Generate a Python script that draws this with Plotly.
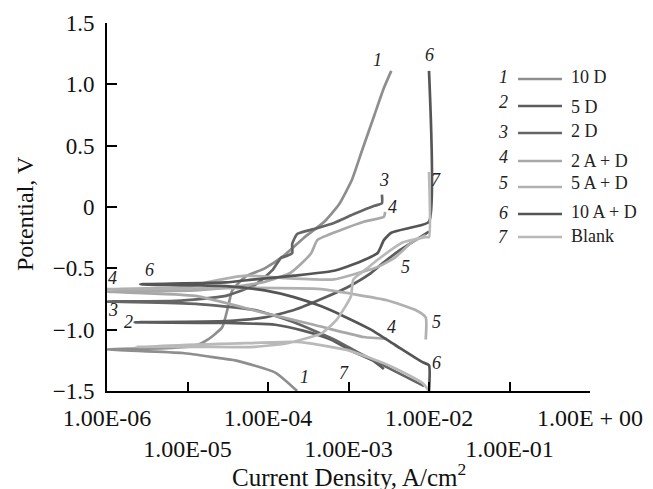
import math
import plotly.graph_objects as go

# ---------------- data (current density A/cm^2, potential V) ----------------
names = ["10 D", "5 D", "2 D", "2 A + D", "5 A + D", "10 A + D", "Blank"]
numbers = ["1", "2", "3", "4", "5", "6", "7"]

cur1 = [2.3e-4, 1.23e-4, 3.9e-5, 2.4e-5, 8.7e-6, 1.0e-6, 5.5e-6, 1.26e-5, 1.8e-5, 2.7e-5,
        3.2e-5, 3.6e-5, 5.2e-5, 9.1e-5, 1.62e-4, 2.8e-4, 5.0e-4, 7.6e-4, 1.1e-3, 1.48e-3,
        2.1e-3, 2.75e-3, 3.4e-3]
pot1 = [-1.50, -1.35, -1.25, -1.23, -1.19, -1.16, -1.15, -1.13, -1.08, -0.98,
        -0.81, -0.68, -0.57, -0.50, -0.39, -0.25, -0.12, 0.02, 0.22, 0.465,
        0.75, 0.97, 1.11]

cur2 = [2.75e-3, 2.1e-3, 1.15e-3, 6.0e-4, 2.8e-4, 1.23e-4, 3.0e-5, 2.2e-6,
        3.0e-5, 9.1e-5, 2.1e-4, 5.0e-4, 1.0e-3, 1.8e-3, 2.75e-3, 4.4e-3, 6.8e-3, 1.0e-2]
pot2 = [-1.32, -1.26, -1.18, -1.08, -1.01, -0.96, -0.945, -0.94,
        -0.93, -0.90, -0.84, -0.74, -0.65, -0.55, -0.45, -0.35, -0.27, -0.20]

cur3 = [8.7e-3, 3.8e-3, 1.55e-3, 6.6e-4, 2.1e-4, 6.9e-5, 1.26e-5, 1.0e-6,
        7.2e-6, 3.0e-5, 6.9e-5, 1.15e-4, 1.45e-4, 1.7e-4, 2.0e-4, 2.0e-4, 2.3e-4,
        3.7e-4, 6.6e-4, 1.15e-3, 2.1e-3, 2.6e-3, 2.6e-3]
pot3 = [-1.46, -1.34, -1.21, -1.08, -0.94, -0.84, -0.79, -0.77,
        -0.765, -0.725, -0.635, -0.51, -0.415, -0.40, -0.375, -0.30, -0.22,
        -0.18, -0.13, -0.06, 0.01, 0.03, 0.10]

cur4 = [3.0e-3, 1.55e-3, 3.7e-4, 9.1e-5, 1.26e-5, 1.0e-6,
        1.26e-5, 3.9e-5, 9.1e-5, 1.86e-4, 2.6e-4, 3.45e-4, 4.1e-4, 7.9e-4, 1.55e-3,
        2.75e-3, 2.85e-3]
pot4 = [-1.075, -1.06, -0.96, -0.865, -0.725, -0.69,
        -0.68, -0.65, -0.61, -0.54, -0.46, -0.375, -0.27, -0.19, -0.12,
        -0.08, -0.04]

cur5 = [9.1e-3, 9.1e-3, 6.8e-3, 3.0e-3, 1.15e-3, 4.6e-4, 6.9e-5, 1.0e-6,
        9.5e-6, 2.2e-5, 5.2e-5, 1.62e-4, 3.7e-4, 6.6e-4, 1.15e-3, 2.3e-3, 3.8e-3,
        6.2e-3, 9.1e-3]
pot5 = [-1.08, -0.90, -0.84, -0.76, -0.71, -0.67, -0.66, -0.67,
        -0.65, -0.60, -0.56, -0.58, -0.59, -0.59, -0.55, -0.49, -0.41,
        -0.285, -0.23]

cur6 = [1.0e-2, 1.0e-2, 8.3e-3, 3.8e-3, 1.9e-3, 8.7e-4, 4.6e-4, 2.1e-4, 9.1e-5, 3.0e-5, 2.6e-6,
        3.0e-5, 6.9e-5, 2.1e-4, 6.6e-4, 1.35e-3, 2.3e-3, 2.75e-3, 3.4e-3, 6.2e-3, 1.0e-2, 1.0e-2]
pot6 = [-1.50, -1.29, -1.265, -1.125, -1.00, -0.89, -0.81, -0.735, -0.68, -0.645, -0.63,
        -0.615, -0.59, -0.56, -0.52, -0.45, -0.375, -0.27, -0.21, -0.165, -0.12, 1.11]

cur7 = [1.0e-2, 8.3e-3, 3.4e-3, 9.5e-4, 2.3e-4, 5.2e-5, 2.3e-6,
        1.26e-5, 6.9e-5, 1.74e-4, 4.6e-4, 7.1e-4, 1.07e-3, 1.15e-3, 1.7e-3, 2.3e-3,
        4.7e-3, 9.1e-3, 1.0e-2, 1.0e-2]
pot7 = [-1.50, -1.435, -1.30, -1.165, -1.10, -1.11, -1.14,
        -1.14, -1.14, -1.11, -1.03, -0.92, -0.73, -0.59, -0.50, -0.43,
        -0.29, -0.245, -0.245, 0.285]

x_tickvals = [1e-6, 1e-5, 1e-4, 1e-3, 1e-2, 1e-1, 1e0]
x_ticktext = ["1.00E-06", "1.00E-05", "1.00E-04", "1.00E-03", "1.00E-02", "1.00E-01", "1.00E + 00"]
y_tickvals = [-1.5, -1.0, -0.5, 0, 0.5, 1.0, 1.5]
y_ticktext = ["\u22121.5", "\u22121.0", "\u22120.5", "0", "0.5", "1.0", "1.5"]

# curve labels (text, current, potential)
curve_labels = [
    ("1", 2.3e-3, 1.20), ("6", 1.0e-2, 1.24), ("3", 2.75e-3, 0.22), ("4", 3.5e-3, 0.0),
    ("7", 1.23e-2, 0.22), ("5", 5.1e-3, -0.49), ("5", 1.23e-2, -0.94), ("4", 3.4e-3, -0.98),
    ("6", 1.23e-2, -1.27), ("7", 8.7e-4, -1.35), ("1", 2.8e-4, -1.385),
    ("4", 1.18e-6, -0.58), ("6", 3.4e-6, -0.51), ("3", 1.18e-6, -0.84), ("2", 1.86e-6, -0.94),
]

# ---------------- style ----------------
colors = ["#8e8e8e", "#5c5c5c", "#656565", "#a8a8a8", "#b0b0b0", "#555555", "#b9b9b9"]
W, H = 653, 489
L_PX, R_PX, T_PX, B_PX = 107, 590, 23, 391
FONT = "Liberation Serif"

def px(x):
    return (x - L_PX) / (R_PX - L_PX)

def py(y):
    return (B_PX - y) / (B_PX - T_PX)

series = [(cur1, pot1), (cur2, pot2), (cur3, pot3), (cur4, pot4),
          (cur5, pot5), (cur6, pot6), (cur7, pot7)]

fig = go.Figure()
for (c, p), col, nm in zip(series, colors, names):
    fig.add_trace(go.Scatter(x=c, y=p, mode="lines", name=nm, showlegend=False,
                             hoverinfo="skip",
                             line=dict(color=col, width=2.7, shape="spline", smoothing=0.5)))

annotations = []
for txt, xv, yv in curve_labels:
    annotations.append(dict(x=math.log10(xv), y=yv, xref="x", yref="y", text="<i>%s</i>" % txt,
                            showarrow=False, xanchor="center", yanchor="middle",
                            font=dict(family=FONT, size=18, color="#222")))

# legend (manual)
num_y = [77, 102, 132, 157, 183, 213, 237]
line_y = [79, 106, 133, 161, 187, 214, 237]
lab_y = [77, 107, 131, 161, 183, 212, 236]
shapes = []
for i in range(7):
    annotations.append(dict(x=px(503), y=py(num_y[i]), xref="paper", yref="paper",
                            text="<i>%s</i>" % numbers[i], showarrow=False,
                            xanchor="center", yanchor="middle",
                            font=dict(family=FONT, size=18, color="#222")))
    annotations.append(dict(x=px(569), y=py(lab_y[i]), xref="paper", yref="paper",
                            text=names[i], showarrow=False, xanchor="left", yanchor="middle",
                            font=dict(family=FONT, size=18, color="#222")))
    shapes.append(dict(type="line", xref="paper", yref="paper",
                       x0=px(518), x1=px(562), y0=py(line_y[i]), y1=py(line_y[i]),
                       line=dict(color=colors[i], width=2.7)))

# axis titles
annotations.append(dict(x=px(349), y=py(475), xref="paper", yref="paper",
                        text="Current Density, A/cm<sup>2</sup>", showarrow=False,
                        xanchor="center", yanchor="middle",
                        font=dict(family=FONT, size=25, color="#111")))
annotations.append(dict(x=px(25), y=py(214), xref="paper", yref="paper",
                        text="Potential, V", showarrow=False, textangle=-90,
                        xanchor="center", yanchor="middle",
                        font=dict(family=FONT, size=24, color="#111")))

x_ticktext_staggered = [t if i % 2 == 0 else "<br>" + t for i, t in enumerate(x_ticktext)]

fig.update_layout(
    width=W, height=H,
    margin=dict(l=L_PX, r=W - R_PX, t=T_PX, b=H - B_PX, autoexpand=False),
    paper_bgcolor="white", plot_bgcolor="white",
    font=dict(family=FONT, size=24, color="#111"),
    annotations=annotations, shapes=shapes,
    hovermode=False,
    xaxis=dict(type="log", range=[-6, 0], tickvals=x_tickvals, ticktext=x_ticktext_staggered,
               tickangle=0,
               showline=True, linecolor="black", linewidth=2, ticks="inside", ticklen=9,
               tickwidth=2, tickcolor="black", showgrid=False, zeroline=False,
               tickfont=dict(family=FONT, size=24, color="#111"), ticklabelstandoff=4),
    yaxis=dict(range=[-1.5, 1.5], tickvals=y_tickvals, ticktext=y_ticktext,
               showline=True, linecolor="black", linewidth=2, ticks="inside", ticklen=10,
               tickwidth=2, tickcolor="black", showgrid=False, zeroline=False,
               tickfont=dict(family=FONT, size=23, color="#111"), ticklabelstandoff=6),
)

fig.write_html("out.html", config={"displayModeBar": False},
               post_script="document.body.style.margin='0';")
